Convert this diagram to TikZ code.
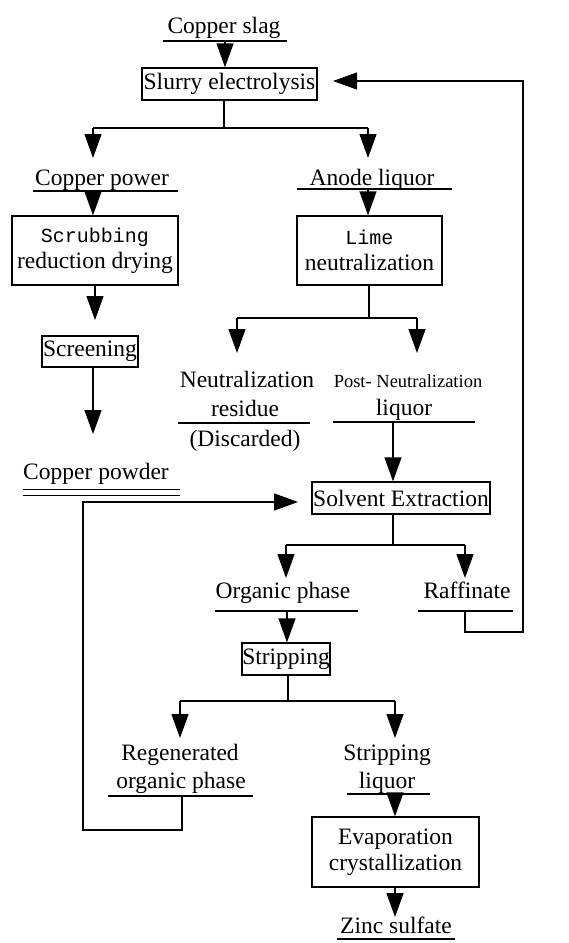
\documentclass[tikz,border=0pt]{standalone}
\usepackage{fontspec}
\setmainfont{Liberation Serif}
\newfontfamily\monof{Liberation Mono}
\usetikzlibrary{arrows.meta}
\begin{document}
\begin{tikzpicture}[x=1pt,y=-1pt,
  line width=1.3pt,
  arr/.style={-{Triangle[length=24pt,width=17pt]}},
  box/.style={draw,inner sep=0pt,align=center,font=\fontsize{23.5}{26}\selectfont},
  lbl/.style={inner sep=0pt,anchor=base,font=\fontsize{23.5}{28}\selectfont},
  small/.style={inner sep=0pt,anchor=base,font=\fontsize{18.5}{22}\selectfont},
  ]
\useasboundingbox (0,0) rectangle (569,943);

% ---- boxes
\node[box,minimum width=175pt,minimum height=32pt] (slurry) at (229.5,84) {Slurry electrolysis};
\node[box,minimum width=166pt,minimum height=69pt] (scrub) at (95,250.5)
  {{\monof\fontsize{20}{24}\selectfont Scrubbing}\\reduction drying};
\node[box,minimum width=145pt,minimum height=69pt] (lime) at (369.5,250.5)
  {{\monof\fontsize{20}{24}\selectfont Lime}\\neutralization};
\node[box,minimum width=96pt,minimum height=31pt] (screen) at (90,351.5) {Screening};
\node[box,minimum width=178pt,minimum height=32pt] (se) at (401,498) {Solvent Extraction};
\node[box,minimum width=88pt,minimum height=32pt] (strip) at (286,659) {Stripping};
\node[box,minimum width=167pt,minimum height=70pt] (evap) at (395.5,852)
  {Evaporation\\crystallization};

% ---- labels
\node[lbl] (cslag) at (224,33) {Copper slag};
\node[lbl] (cpow) at (102,185) {Copper power};
\node[lbl] (anode) at (372,185) {Anode liquor};
\node[lbl] (neut1) at (247,387) {Neutralization};
\node[lbl] (neut2) at (245,416) {residue};
\node[lbl] (neut3) at (245,446) {(Discarded)};
\node[small] (post1) at (408,387) {Post- Neutralization};
\node[lbl] (post2) at (404,415) {liquor};
\node[lbl] (cpowder) at (96,479) {Copper powder};
\node[lbl] (org) at (283,598) {Organic phase};
\node[lbl] (raff) at (467,598) {Raffinate};
\node[lbl] (regen1) at (180,760) {Regenerated};
\node[lbl] (regen2) at (181,788) {organic phase};
\node[lbl] (sliq1) at (387,760) {Stripping};
\node[lbl] (sliq2) at (387,788) {liquor};
\node[lbl] (zinc) at (396,933) {Zinc sulfate};

% ---- underlines
\draw (163,41) -- (287,41);
\draw (33,191) -- (178,191);
\draw (297,189) -- (452,189);
\draw (178,423) -- (310,423);
\draw (333,422) -- (475,422);
\draw[line width=1pt] (23,489) -- (180,489);
\draw[line width=1pt] (23,495) -- (180,495);
\draw (215,611) -- (358,611);
\draw (418,611) -- (513,611);
\draw (108,796) -- (253,796);
\draw (347,794) -- (430,794);
\draw (337,939) -- (455,939);

% ---- named points
\coordinate (cslagU) at (225,41);
\coordinate (cpowU) at (93,191);
\coordinate (anodeU) at (368,189);
\coordinate (postU) at (393,422);
\coordinate (orgU) at (287,611);
\coordinate (raffU) at (465,611);
\coordinate (regenU) at (182,796);
\coordinate (sliqU) at (395,794);
\coordinate (slurryIn) at (333,81);
\coordinate (seIn) at (298,502);
\coordinate (screenOut) at (93,434);
\coordinate (scrubOut) at (95,320);
\coordinate (zincIn) at (395,917);

% ---- connectors
\draw[arr] (cslagU) -- (cslagU |- slurry.north);
\draw (224,100) -- (224,128);
\draw[arr] (93,128) -- (93,158);
\draw[arr] (368,128) -- (368,158);
\draw (93,128) -- (368,128);
\draw[arr] (cpowU) -- (cpowU |- scrub.north);
\draw[arr] (anodeU) -- (anodeU |- lime.north);
\draw[arr] (scrubOut |- scrub.south) -- (scrubOut);
\draw[arr] (screenOut |- screen.south) -- (screenOut);
\draw (369,285) -- (369,318);
\draw (237,318) -- (417,318);
\draw[arr] (237,318) -- (237,353);
\draw[arr] (417,318) -- (417,353);
\draw[arr] (postU) -- (postU |- se.north);
\draw (393,514) -- (393,545);
\draw (286,545) -- (465,545);
\draw[arr] (286,545) -- (286,578);
\draw[arr] (465,545) -- (465,578);
\draw[arr] (orgU) -- (orgU |- strip.north);
\draw (288,675) -- (288,701);
\draw (180,701) -- (395,701);
\draw[arr] (180,701) -- (180,738);
\draw[arr] (395,701) -- (395,738);
\draw[arr] (sliqU) -- (sliqU |- evap.north);
\draw[arr] (zincIn |- evap.south) -- (zincIn);
% feedback loops
\draw[arr] (regenU) -- (182,830) -- (83,830) -- (83,502) -- (seIn);
\draw[arr] (raffU) -- (465,632) -- (523,632) -- (523,81) -- (slurryIn);
\end{tikzpicture}
\end{document}
